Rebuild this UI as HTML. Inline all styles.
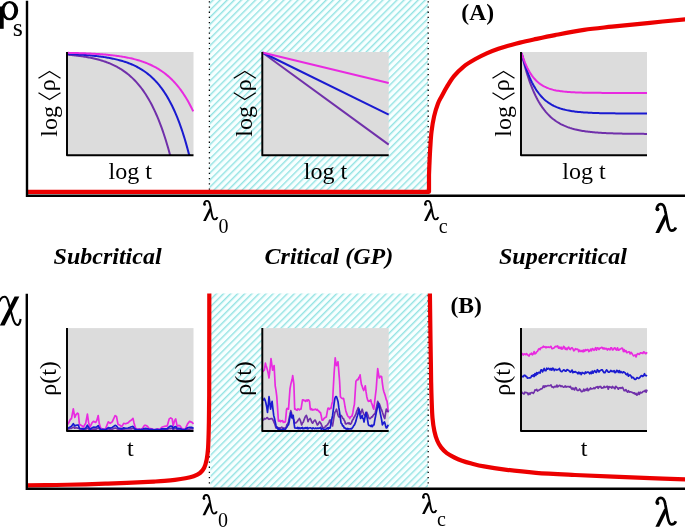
<!DOCTYPE html><html><head><meta charset="utf-8"><style>html,body{margin:0;padding:0;background:#fff;width:685px;height:527px;overflow:hidden}svg{display:block;filter:blur(0.35px)}text{font-family:"Liberation Serif",serif}</style></head><body>
<svg width="685" height="527" viewBox="0 0 685 527">
<defs><pattern id="h" patternUnits="userSpaceOnUse" width="5" height="5" patternTransform="rotate(45)"><rect width="5" height="5" fill="#f8ffff"/><line x1="0.8" y1="0" x2="0.8" y2="5" stroke="#6ad8d8" stroke-width="1"/></pattern></defs>
<rect width="685" height="527" fill="#fff"/>
<rect x="209.5" y="0" width="218.5" height="190" fill="url(#h)"/>
<rect x="210.5" y="293.5" width="217.5" height="194" fill="url(#h)"/>
<line x1="209.4" y1="1.2" x2="209.4" y2="190" stroke="#000" stroke-width="1.3" stroke-dasharray="1.3 3.9"/>
<line x1="428.2" y1="1.2" x2="428.2" y2="190" stroke="#000" stroke-width="1.3" stroke-dasharray="1.3 3.9"/>
<line x1="209.4" y1="295" x2="209.4" y2="487" stroke="#000" stroke-width="1.3" stroke-dasharray="1.3 3.9"/>
<line x1="428.2" y1="295" x2="428.2" y2="487" stroke="#000" stroke-width="1.3" stroke-dasharray="1.3 3.9"/>
<rect x="67" y="52" width="126.5" height="103.3" fill="#dcdcdc"/>
<rect x="67" y="328.1" width="126.5" height="102.9" fill="#dcdcdc"/>
<rect x="262.3" y="52" width="126.4" height="103.3" fill="#dcdcdc"/>
<rect x="262.3" y="328.1" width="126.4" height="102.9" fill="#dcdcdc"/>
<rect x="521" y="52" width="126" height="103.3" fill="#dcdcdc"/>
<rect x="521" y="328.1" width="126" height="102.9" fill="#dcdcdc"/>
<path d="M67.5,54.75 L68.56,54.83 L69.61,54.92 L70.67,55.02 L71.73,55.12 L72.78,55.22 L73.84,55.33 L74.89,55.44 L75.95,55.56 L77.01,55.68 L78.06,55.81 L79.12,55.94 L80.18,56.08 L81.23,56.22 L82.29,56.37 L83.34,56.53 L84.4,56.69 L85.46,56.86 L86.51,57.04 L87.57,57.22 L88.63,57.42 L89.68,57.62 L90.74,57.83 L91.79,58.04 L92.85,58.27 L93.91,58.5 L94.96,58.75 L96.02,59 L97.08,59.27 L98.13,59.55 L99.19,59.83 L100.25,60.13 L101.3,60.44 L102.36,60.77 L103.41,61.11 L104.47,61.46 L105.53,61.82 L106.58,62.2 L107.64,62.6 L108.7,63.01 L109.75,63.43 L110.81,63.88 L111.86,64.34 L112.92,64.82 L113.98,65.32 L115.03,65.84 L116.09,66.38 L117.15,66.94 L118.2,67.53 L119.26,68.14 L120.32,68.77 L121.37,69.43 L122.43,70.11 L123.48,70.82 L124.54,71.56 L125.6,72.33 L126.65,73.13 L127.71,73.96 L128.77,74.82 L129.82,75.72 L130.88,76.65 L131.93,77.62 L132.99,78.63 L134.05,79.67 L135.1,80.76 L136.16,81.89 L137.22,83.07 L138.27,84.29 L139.33,85.56 L140.38,86.88 L141.44,88.26 L142.5,89.68 L143.55,91.17 L144.61,92.71 L145.67,94.31 L146.72,95.97 L147.78,97.71 L148.84,99.5 L149.89,101.37 L150.95,103.31 L152,105.33 L153.06,107.43 L154.12,109.61 L155.17,111.88 L156.23,114.23 L157.29,116.68 L158.34,119.22 L159.4,121.86 L160.45,124.61 L161.51,127.46 L162.57,130.43 L163.62,133.51 L164.68,136.71 L165.74,140.04 L166.79,143.5 L167.85,147.09 L168.91,150.82 L169.96,154.7 L171.02,155.1" fill="none" stroke="#7030aa" stroke-width="2"/>
<path d="M67.5,53.94 L68.56,53.99 L69.61,54.04 L70.67,54.09 L71.73,54.14 L72.78,54.19 L73.84,54.25 L74.89,54.31 L75.95,54.37 L77.01,54.43 L78.06,54.49 L79.12,54.56 L80.18,54.63 L81.23,54.7 L82.29,54.77 L83.34,54.85 L84.4,54.93 L85.46,55.01 L86.51,55.09 L87.57,55.18 L88.63,55.27 L89.68,55.37 L90.74,55.46 L91.79,55.57 L92.85,55.67 L93.91,55.78 L94.96,55.89 L96.02,56.01 L97.08,56.13 L98.13,56.26 L99.19,56.39 L100.25,56.53 L101.3,56.67 L102.36,56.82 L103.41,56.97 L104.47,57.13 L105.53,57.3 L106.58,57.47 L107.64,57.65 L108.7,57.83 L109.75,58.03 L110.81,58.23 L111.86,58.44 L112.92,58.66 L113.98,58.88 L115.03,59.12 L116.09,59.36 L117.15,59.62 L118.2,59.88 L119.26,60.16 L120.32,60.44 L121.37,60.74 L122.43,61.05 L123.48,61.38 L124.54,61.71 L125.6,62.06 L126.65,62.43 L127.71,62.81 L128.77,63.2 L129.82,63.61 L130.88,64.04 L131.93,64.49 L132.99,64.95 L134.05,65.43 L135.1,65.93 L136.16,66.46 L137.22,67 L138.27,67.57 L139.33,68.16 L140.38,68.78 L141.44,69.42 L142.5,70.09 L143.55,70.78 L144.61,71.51 L145.67,72.26 L146.72,73.05 L147.78,73.86 L148.84,74.72 L149.89,75.61 L150.95,76.53 L152,77.49 L153.06,78.5 L154.12,79.54 L155.17,80.63 L156.23,81.77 L157.29,82.95 L158.34,84.18 L159.4,85.46 L160.45,86.8 L161.51,88.19 L162.57,89.65 L163.62,91.16 L164.68,92.73 L165.74,94.37 L166.79,96.08 L167.85,97.87 L168.91,99.72 L169.96,101.66 L171.02,103.67 L172.07,105.77 L173.13,107.96 L174.19,110.24 L175.24,112.62 L176.3,115.09 L177.36,117.67 L178.41,120.36 L179.47,123.16 L180.52,126.08 L181.58,129.12 L182.64,132.29 L183.69,135.59 L184.75,139.03 L185.81,142.62 L186.86,146.36 L187.92,150.25 L188.97,154.31 L190.03,155.1" fill="none" stroke="#1a1ad0" stroke-width="2"/>
<path d="M67.5,52.85 L68.56,52.87 L69.61,52.89 L70.67,52.92 L71.73,52.94 L72.78,52.97 L73.84,52.99 L74.89,53.02 L75.95,53.05 L77.01,53.08 L78.06,53.11 L79.12,53.14 L80.18,53.18 L81.23,53.21 L82.29,53.25 L83.34,53.29 L84.4,53.33 L85.46,53.37 L86.51,53.42 L87.57,53.46 L88.63,53.51 L89.68,53.56 L90.74,53.62 L91.79,53.67 L92.85,53.73 L93.91,53.79 L94.96,53.85 L96.02,53.91 L97.08,53.98 L98.13,54.05 L99.19,54.12 L100.25,54.19 L101.3,54.27 L102.36,54.35 L103.41,54.44 L104.47,54.53 L105.53,54.62 L106.58,54.71 L107.64,54.81 L108.7,54.92 L109.75,55.02 L110.81,55.14 L111.86,55.25 L112.92,55.37 L113.98,55.5 L115.03,55.63 L116.09,55.77 L117.15,55.91 L118.2,56.05 L119.26,56.21 L120.32,56.37 L121.37,56.53 L122.43,56.7 L123.48,56.88 L124.54,57.07 L125.6,57.26 L126.65,57.46 L127.71,57.67 L128.77,57.88 L129.82,58.11 L130.88,58.34 L131.93,58.59 L132.99,58.84 L134.05,59.1 L135.1,59.37 L136.16,59.66 L137.22,59.95 L138.27,60.26 L139.33,60.57 L140.38,60.9 L141.44,61.25 L142.5,61.6 L143.55,61.97 L144.61,62.36 L145.67,62.76 L146.72,63.17 L147.78,63.61 L148.84,64.05 L149.89,64.52 L150.95,65 L152,65.51 L153.06,66.03 L154.12,66.57 L155.17,67.14 L156.23,67.72 L157.29,68.33 L158.34,68.96 L159.4,69.62 L160.45,70.3 L161.51,71.01 L162.57,71.74 L163.62,72.51 L164.68,73.3 L165.74,74.13 L166.79,74.98 L167.85,75.87 L168.91,76.8 L169.96,77.76 L171.02,78.75 L172.07,79.79 L173.13,80.87 L174.19,81.98 L175.24,83.14 L176.3,84.35 L177.36,85.6 L178.41,86.9 L179.47,88.25 L180.52,89.66 L181.58,91.11 L182.64,92.63 L183.69,94.2 L184.75,95.83 L185.81,97.53 L186.86,99.29 L187.92,101.12 L188.97,103.02 L190.03,104.99 L191.09,107.04 L192.14,109.17 L193.2,111.38" fill="none" stroke="#e82ae0" stroke-width="2"/>
<line x1="262.3" y1="52.5" x2="388.7" y2="144.6" stroke="#7030aa" stroke-width="2"/>
<line x1="262.3" y1="52.5" x2="388.7" y2="114.6" stroke="#1a1ad0" stroke-width="2"/>
<line x1="262.3" y1="52.5" x2="388.7" y2="83" stroke="#e82ae0" stroke-width="2"/>
<path d="M521.6,53.37 L522.75,58.18 L523.9,62.7 L525.05,66.95 L526.2,70.95 L527.35,74.71 L528.5,78.25 L529.65,81.57 L530.8,84.7 L531.95,87.64 L533.1,90.4 L534.26,93 L535.41,95.45 L536.56,97.75 L537.71,99.91 L538.86,101.94 L540.01,103.85 L541.16,105.65 L542.31,107.34 L543.46,108.93 L544.61,110.43 L545.76,111.83 L546.91,113.15 L548.06,114.4 L549.21,115.56 L550.36,116.66 L551.51,117.7 L552.66,118.67 L553.81,119.58 L554.96,120.44 L556.11,121.25 L557.26,122.01 L558.41,122.72 L559.57,123.4 L560.72,124.03 L561.87,124.62 L563.02,125.18 L564.17,125.71 L565.32,126.2 L566.47,126.66 L567.62,127.1 L568.77,127.51 L569.92,127.9 L571.07,128.26 L572.22,128.6 L573.37,128.92 L574.52,129.23 L575.67,129.51 L576.82,129.78 L577.97,130.03 L579.12,130.26 L580.27,130.49 L581.42,130.7 L582.57,130.89 L583.72,131.08 L584.88,131.25 L586.03,131.41 L587.18,131.57 L588.33,131.71 L589.48,131.85 L590.63,131.98 L591.78,132.1 L592.93,132.21 L594.08,132.31 L595.23,132.41 L596.38,132.51 L597.53,132.6 L598.68,132.68 L599.83,132.76 L600.98,132.83 L602.13,132.9 L603.28,132.96 L604.43,133.03 L605.58,133.08 L606.73,133.14 L607.88,133.19 L609.03,133.24 L610.19,133.28 L611.34,133.32 L612.49,133.36 L613.64,133.4 L614.79,133.43 L615.94,133.47 L617.09,133.5 L618.24,133.53 L619.39,133.56 L620.54,133.58 L621.69,133.61 L622.84,133.63 L623.99,133.65 L625.14,133.67 L626.29,133.69 L627.44,133.71 L628.59,133.72 L629.74,133.74 L630.89,133.75 L632.04,133.77 L633.19,133.78 L634.34,133.79 L635.5,133.81 L636.65,133.82 L637.8,133.83 L638.95,133.84 L640.1,133.85 L641.25,133.85 L642.4,133.86 L643.55,133.87 L644.7,133.88 L645.85,133.88 L647,133.89" fill="none" stroke="#7030aa" stroke-width="2"/>
<path d="M521.6,53.04 L522.75,57.34 L523.9,61.33 L525.05,65.04 L526.2,68.49 L527.35,71.69 L528.5,74.66 L529.65,77.42 L530.8,79.99 L531.95,82.37 L533.1,84.58 L534.26,86.64 L535.41,88.55 L536.56,90.33 L537.71,91.97 L538.86,93.51 L540.01,94.93 L541.16,96.25 L542.31,97.48 L543.46,98.62 L544.61,99.68 L545.76,100.66 L546.91,101.58 L548.06,102.43 L549.21,103.21 L550.36,103.95 L551.51,104.63 L552.66,105.26 L553.81,105.85 L554.96,106.39 L556.11,106.9 L557.26,107.37 L558.41,107.81 L559.57,108.22 L560.72,108.59 L561.87,108.94 L563.02,109.27 L564.17,109.57 L565.32,109.85 L566.47,110.11 L567.62,110.36 L568.77,110.58 L569.92,110.79 L571.07,110.99 L572.22,111.17 L573.37,111.33 L574.52,111.49 L575.67,111.64 L576.82,111.77 L577.97,111.89 L579.12,112.01 L580.27,112.12 L581.42,112.22 L582.57,112.31 L583.72,112.4 L584.88,112.48 L586.03,112.55 L587.18,112.62 L588.33,112.69 L589.48,112.75 L590.63,112.8 L591.78,112.85 L592.93,112.9 L594.08,112.95 L595.23,112.99 L596.38,113.03 L597.53,113.06 L598.68,113.1 L599.83,113.13 L600.98,113.15 L602.13,113.18 L603.28,113.21 L604.43,113.23 L605.58,113.25 L606.73,113.27 L607.88,113.29 L609.03,113.31 L610.19,113.32 L611.34,113.34 L612.49,113.35 L613.64,113.36 L614.79,113.37 L615.94,113.39 L617.09,113.4 L618.24,113.41 L619.39,113.41 L620.54,113.42 L621.69,113.43 L622.84,113.44 L623.99,113.44 L625.14,113.45 L626.29,113.46 L627.44,113.46 L628.59,113.47 L629.74,113.47 L630.89,113.47 L632.04,113.48 L633.19,113.48 L634.34,113.48 L635.5,113.49 L636.65,113.49 L637.8,113.49 L638.95,113.5 L640.1,113.5 L641.25,113.5 L642.4,113.5 L643.55,113.5 L644.7,113.51 L645.85,113.51 L647,113.51" fill="none" stroke="#1a1ad0" stroke-width="2"/>
<path d="M521.6,53.17 L522.75,56.67 L523.9,59.87 L525.05,62.78 L526.2,65.44 L527.35,67.86 L528.5,70.07 L529.65,72.08 L530.8,73.92 L531.95,75.59 L533.1,77.12 L534.26,78.52 L535.41,79.79 L536.56,80.94 L537.71,82 L538.86,82.96 L540.01,83.84 L541.16,84.64 L542.31,85.37 L543.46,86.04 L544.61,86.65 L545.76,87.2 L546.91,87.71 L548.06,88.17 L549.21,88.59 L550.36,88.97 L551.51,89.32 L552.66,89.64 L553.81,89.93 L554.96,90.19 L556.11,90.44 L557.26,90.66 L558.41,90.86 L559.57,91.04 L560.72,91.21 L561.87,91.36 L563.02,91.5 L564.17,91.63 L565.32,91.74 L566.47,91.85 L567.62,91.94 L568.77,92.03 L569.92,92.11 L571.07,92.18 L572.22,92.25 L573.37,92.31 L574.52,92.37 L575.67,92.42 L576.82,92.46 L577.97,92.5 L579.12,92.54 L580.27,92.58 L581.42,92.61 L582.57,92.64 L583.72,92.66 L584.88,92.69 L586.03,92.71 L587.18,92.73 L588.33,92.75 L589.48,92.77 L590.63,92.78 L591.78,92.79 L592.93,92.81 L594.08,92.82 L595.23,92.83 L596.38,92.84 L597.53,92.85 L598.68,92.86 L599.83,92.86 L600.98,92.87 L602.13,92.88 L603.28,92.88 L604.43,92.89 L605.58,92.89 L606.73,92.89 L607.88,92.9 L609.03,92.9 L610.19,92.91 L611.34,92.91 L612.49,92.91 L613.64,92.91 L614.79,92.92 L615.94,92.92 L617.09,92.92 L618.24,92.92 L619.39,92.92 L620.54,92.92 L621.69,92.92 L622.84,92.93 L623.99,92.93 L625.14,92.93 L626.29,92.93 L627.44,92.93 L628.59,92.93 L629.74,92.93 L630.89,92.93 L632.04,92.93 L633.19,92.93 L634.34,92.93 L635.5,92.93 L636.65,92.93 L637.8,92.93 L638.95,92.93 L640.1,92.94 L641.25,92.94 L642.4,92.94 L643.55,92.94 L644.7,92.94 L645.85,92.94 L647,92.94" fill="none" stroke="#e82ae0" stroke-width="2"/>
<path d="M67.9,429.12 L70.3,428.47 L71.5,428.32 L73.3,427.08 L74.8,428.23 L76,427.77 L77.5,428.14 L78.4,427.98 L79.4,428.93 L81.8,429.27 L83.3,429.3 L85.7,429.3 L87.4,428 L88.6,429.12 L90,429.51 L92,428.97 L93.4,429.14 L95.8,429.13 L96.8,428.86 L98.2,427.9 L99.2,428.91 L100.6,429.85 L102.5,429.59 L105.4,429.98 L108.3,428.83 L110.2,429.3 L112.2,429.2 L115.1,427.93 L116.5,428.43 L118,429.36 L119.9,429.02 L121.8,429.26 L123.7,429.2 L125.6,428.86 L128,429 L130,428.68 L131.5,428.85 L133,428.22 L134,428.91 L135.4,429.33 L137,429.56 L139.4,429.85 L140.9,429.94 L142.9,429.81 L144.4,429.54 L145.9,429.58 L147.4,429.55 L148.9,429.61 L151.8,430.03 L153.8,429.75 L156.8,429.89 L157.8,429.85 L159.8,429.66 L161.8,429.56 L164.7,429.54 L167.2,429.4 L169.2,428.42 L170.7,428.69 L172.2,428.26 L173.2,429.67 L174.7,428.57 L175.7,428.34 L177.2,429.72 L178.6,429.15 L180.1,429.46 L182.1,429.68 L185.1,430.09 L187.6,429.42 L189.6,429.04 L192,428.69 L193.5,429.33" fill="none" stroke="#7030aa" stroke-width="1.7" stroke-linejoin="round"/>
<path d="M67.9,424.3 L70.3,419.5 L71.5,418.5 L73.3,408.9 L74.8,417.5 L76,414.6 L77.5,413.2 L78.4,414 L79.4,424.3 L81.8,425.7 L83.3,427.2 L85.7,423.3 L87.4,414.2 L88.6,422.4 L90,427.2 L92,422.8 L93.4,421.4 L95.8,422.4 L96.8,420.4 L98.2,415.6 L99.2,423.3 L100.6,428.1 L102.5,429.1 L105.4,429.1 L108.3,421.9 L110.2,423.3 L112.2,421.9 L115.1,415.6 L116.5,416.5 L118,424.3 L119.9,425.3 L121.8,426.7 L123.7,423.3 L125.6,423.8 L128,422.9 L130,420.9 L131.5,420 L133,418.4 L134,422.9 L135.4,427.8 L137,429.3 L139.4,428.8 L140.9,429.8 L142.9,427.8 L144.4,425.4 L145.9,425.4 L147.4,426.3 L148.9,428.3 L151.8,428.8 L153.8,429.8 L156.8,429.3 L157.8,428.8 L159.8,429.8 L161.8,427.3 L164.7,426.3 L167.2,425.9 L169.2,418.9 L170.7,417.9 L172.2,418.9 L173.2,425.9 L174.7,420.4 L175.7,418.9 L177.2,426.3 L178.6,425.4 L180.1,425.9 L182.1,428.8 L185.1,429.3 L187.6,423.9 L189.6,421.4 L192,422.4 L193.5,423.9" fill="none" stroke="#e82ae0" stroke-width="1.7" stroke-linejoin="round"/>
<path d="M67.9,428.24 L70.3,426.9 L71.5,426.3 L73.3,423.77 L74.8,426.07 L76,425.3 L77.5,425.07 L78.4,425.04 L79.4,428.41 L81.8,428.59 L83.3,429.26 L85.7,428.08 L87.4,425.15 L88.6,427.36 L90,429.23 L92,427.85 L93.4,427.18 L95.8,427.29 L96.8,426.91 L98.2,425.58 L99.2,427.54 L100.6,429.54 L102.5,429.35 L105.4,429.7 L108.3,427.62 L110.2,428.06 L112.2,427.52 L115.1,425.33 L116.5,425.98 L118,428.08 L119.9,428.35 L121.8,428.93 L123.7,427.8 L125.6,428.24 L128,427.97 L130,427.29 L131.5,426.73 L133,426.4 L134,427.82 L135.4,429.13 L137,429.66 L139.4,429.6 L140.9,429.6 L142.9,429.06 L144.4,428.61 L145.9,428.42 L147.4,428.71 L148.9,429.1 L151.8,429.34 L153.8,429.91 L156.8,429.34 L157.8,429.71 L159.8,429.83 L161.8,428.88 L164.7,428.94 L167.2,428.62 L169.2,426.79 L170.7,426.11 L172.2,426.35 L173.2,428.57 L174.7,426.73 L175.7,426.62 L177.2,428.61 L178.6,428.4 L180.1,428.56 L182.1,429.51 L185.1,429.43 L187.6,427.74 L189.6,427.28 L192,427.46 L193.5,428.27" fill="none" stroke="#1a1ad0" stroke-width="1.7" stroke-linejoin="round"/>
<path d="M262.9,372 L263.6,370.5 L264.3,370.2 L264.85,367.04 L265.4,363.2 L266.1,365.78 L266.8,367.83 L267.5,370.2 L268.25,373.59 L269,378 L269.67,372.06 L270.33,365.62 L271,358.6 L271.8,364.42 L272.6,370.2 L273.35,367.91 L274.1,365.6 L274.65,375.22 L275.2,385.8 L276,390.36 L276.8,396.7 L277.6,408.57 L278.4,420.9 L279.1,421.13 L279.8,420.28 L280.5,421.67 L281.2,420.74 L281.9,420.82 L282.6,420.56 L283.3,422.36 L284,421.97 L284.7,422.3 L285.4,421.7 L286,415.66 L286.6,409.2 L287.23,408.36 L287.87,408.89 L288.5,409.2 L289.25,399.05 L290,388.9 L290.8,384.36 L291.6,381.2 L292.15,379.26 L292.7,375.7 L293.3,379.76 L293.9,384.3 L294.7,409.2 L295.5,408.98 L296.3,410 L297.07,410.3 L297.83,408.79 L298.6,409.2 L299.4,409.97 L300.2,409.12 L301,409.2 L301.75,404.59 L302.5,399.8 L303.27,399.92 L304.05,400.57 L304.83,400.44 L305.6,401.4 L306.4,400.03 L307.2,400.99 L308,399.8 L308.75,400.12 L309.5,401.4 L310.3,409.2 L310.98,409.7 L311.65,408.68 L312.32,410.04 L313,409.91 L313.68,409.66 L314.35,409.67 L315.02,409.35 L315.7,409.2 L316.47,410.05 L317.23,409.39 L318,410.5 L318.8,411.06 L319.6,412.29 L320.4,412.3 L321.2,415.61 L322,420 L322.67,420.26 L323.33,419.7 L324,418.5 L324.77,417.84 L325.53,417.26 L326.3,417 L327.1,412.61 L327.9,408.4 L328.67,408.19 L329.45,409.29 L330.23,408.2 L331,408.4 L331.8,404.05 L332.6,401.4 L333.35,386.67 L334.1,373.4 L334.65,365.99 L335.2,357.8 L335.85,362.59 L336.5,365.6 L337.25,363.64 L338,361.7 L338.8,371.43 L339.6,381.2 L340.4,396.7 L341.15,397.59 L341.9,398.3 L342.7,398.75 L343.5,398.3 L344.27,401.93 L345.03,406.76 L345.8,410.7 L346.6,413.15 L347.4,415.4 L348.17,416.65 L348.93,416.89 L349.7,418.5 L350.47,417.07 L351.23,416.56 L352,416 L352.8,412.94 L353.6,408.06 L354.4,404.5 L355.15,393.03 L355.9,381.2 L356.7,380.32 L357.5,379.42 L358.3,379.6 L358.9,377.25 L359.5,377.03 L360.1,374.9 L360.75,380.1 L361.4,384.3 L362.17,386.14 L362.93,388.76 L363.7,390.5 L364.5,388.47 L365.3,385.8 L366.05,391.97 L366.8,396.7 L367.6,399.87 L368.4,401.4 L369.17,400.7 L369.93,401.21 L370.7,399.8 L371.48,402.98 L372.25,404.66 L373.02,407.54 L373.8,409.2 L374.6,402.45 L375.4,395.51 L376.2,389 L376.95,378.39 L377.7,368.7 L378.5,374.03 L379.3,378 L380.07,376.89 L380.83,376.22 L381.6,376.5 L382.4,383.3 L383.2,389 L383.97,392.06 L384.73,394.1 L385.5,396.7 L386.3,399.66 L387.1,401.4 L387.65,406.04 L388.2,412.3" fill="none" stroke="#e82ae0" stroke-width="1.7" stroke-linejoin="round"/>
<path d="M262.9,420 L263.6,420.01 L264.3,418.5 L265.1,419.07 L265.9,418.74 L266.7,417.8 L267.47,417.55 L268.23,418.97 L269,419.3 L269.77,418.9 L270.53,418.82 L271.3,418.5 L272.03,418.67 L272.77,419.61 L273.5,421 L274.12,422.63 L274.75,423.95 L275.38,426.09 L276,427.9 L276.72,427.04 L277.45,427.15 L278.17,428.28 L278.89,427.76 L279.62,427.92 L280.34,428.32 L281.06,427.65 L281.78,427.1 L282.51,428.41 L283.23,428.06 L283.95,428.18 L284.68,428.12 L285.4,427.9 L286.17,427.2 L286.95,424.55 L287.73,423.72 L288.5,421.7 L289.27,417.8 L290.03,414.5 L290.8,410.7 L291.6,413.59 L292.4,415.57 L293.2,418.5 L293.95,420.1 L294.7,423.2 L295.4,422.75 L296.1,422.79 L296.8,422 L297.45,421.29 L298.1,420.16 L298.75,419.63 L299.4,418.5 L300.17,420.09 L300.93,422.25 L301.7,425 L302.47,423.02 L303.23,422.24 L304,420 L304.8,417.92 L305.6,416.24 L306.4,415.4 L307.2,417.83 L308,421.7 L308.77,419.8 L309.53,419.16 L310.3,418.5 L311.07,420.2 L311.83,422.21 L312.6,423.2 L313.4,421.83 L314.2,420.83 L315,420 L315.77,421.29 L316.53,422.98 L317.3,425 L318.07,424.4 L318.83,422.89 L319.6,421.7 L320.4,422.8 L321.2,424.06 L322,426.3 L322.67,427.34 L323.33,427.74 L324,427.9 L324.75,427.77 L325.5,425.98 L326.25,425.81 L327,425 L327.64,424.75 L328.28,423.17 L328.92,422.8 L329.56,420.4 L330.2,420 L330.97,422.86 L331.73,423.2 L332.5,426 L333.3,421.28 L334.1,416.01 L334.9,412.3 L335.7,411.31 L336.5,409.2 L337.27,412.14 L338.03,415.25 L338.8,417 L339.57,417.02 L340.33,416.74 L341.1,415.4 L341.9,416.5 L342.7,418.35 L343.5,418.5 L344.12,420.32 L344.75,420.97 L345.38,423.48 L346,424 L346.66,423.68 L347.32,423.25 L347.99,422.94 L348.65,423.54 L349.31,422.95 L349.98,424.18 L350.64,424.11 L351.3,423.2 L351.95,421.39 L352.6,419.89 L353.25,419.35 L353.9,417.41 L354.55,416.78 L355.2,415.4 L355.98,414.01 L356.75,411.06 L357.52,409.41 L358.3,407.6 L359.07,410.42 L359.83,411.7 L360.6,413.9 L361.4,411.27 L362.2,409.2 L362.97,411.97 L363.73,413.9 L364.5,415.4 L365.27,415.08 L366.03,413.67 L366.8,412.3 L367.6,414.21 L368.4,416.78 L369.2,418.5 L369.98,418.72 L370.75,418 L371.52,416.9 L372.3,417 L373.07,415.46 L373.85,414.49 L374.62,413.96 L375.4,412.3 L376.17,408.77 L376.93,405.12 L377.7,401.4 L378.5,403.52 L379.3,403.76 L380.1,406 L380.87,408.34 L381.63,409.9 L382.4,412.3 L383.2,414.47 L384,417.04 L384.8,418.5 L385.55,413.4 L386.3,409.2 L386.93,411.05 L387.57,410.51 L388.2,412.3" fill="none" stroke="#7030aa" stroke-width="1.7" stroke-linejoin="round"/>
<path d="M262.9,400 L263.6,399.97 L264.3,398.3 L265.1,400 L265.9,403 L266.7,406.79 L267.5,412.3 L268.25,405.4 L269,396.7 L269.8,402.38 L270.6,409.2 L271.35,404.62 L272.1,401.4 L272.9,408.67 L273.7,415.4 L274.45,418.27 L275.2,421.7 L276,425.5 L276.8,427.9 L277.44,427.72 L278.08,429.33 L278.72,428.48 L279.36,429.28 L280,429.4 L280.68,430 L281.35,429.73 L282.02,430 L282.7,429.77 L283.38,428.59 L284.05,430 L284.72,429.56 L285.4,429.4 L286.2,427.86 L287,427 L287.75,425.34 L288.5,424.8 L289.27,421.26 L290.03,416.62 L290.8,412.3 L291.4,415.94 L292,418 L292.6,417.19 L293.2,415.4 L293.95,422.48 L294.7,427.9 L295.4,428.02 L296.1,428.26 L296.8,428.1 L297.5,427.47 L298.2,428.72 L298.9,427.56 L299.6,428.41 L300.3,428.72 L301,427.9 L301.67,428.27 L302.33,427.46 L303,428.79 L303.67,428.6 L304.33,427.83 L305,428.5 L305.71,427.6 L306.43,428.39 L307.14,427.4 L307.86,428.92 L308.57,428.08 L309.29,428.02 L310,427.9 L310.71,427.82 L311.43,428.36 L312.14,428.91 L312.86,427.9 L313.57,428.1 L314.29,428.56 L315,428.5 L315.71,428.06 L316.43,428.53 L317.14,428.36 L317.86,428.09 L318.57,428.45 L319.29,428.12 L320,428 L320.67,427.49 L321.33,429.36 L322,428.44 L322.67,428.81 L323.33,428.99 L324,429.4 L324.69,430 L325.38,429.88 L326.07,428.92 L326.76,428.55 L327.44,427.84 L328.13,429.11 L328.82,427.64 L329.51,428.15 L330.2,427.9 L331,423.46 L331.8,419.26 L332.6,415.4 L333.37,409.44 L334.13,403.44 L334.9,398.3 L335.7,396.67 L336.5,396.7 L337.25,399.11 L338,401.4 L338.8,407.38 L339.6,412.3 L340.35,418.01 L341.1,423.2 L341.88,423.84 L342.65,425.9 L343.43,425.92 L344.2,427.9 L344.93,427.88 L345.65,428.77 L346.38,429.07 L347.1,428.38 L347.82,429.21 L348.55,428.72 L349.27,428.91 L350,429 L350.75,428.65 L351.5,428.88 L352.25,427.94 L353,427 L353.73,425.68 L354.47,424.88 L355.2,423.2 L355.97,420.86 L356.73,417.74 L357.5,415.4 L358.25,412.81 L359,409.2 L359.8,414.43 L360.6,418.5 L361.4,417.15 L362.2,415.4 L362.8,418.4 L363.4,418.93 L364,422 L364.67,418.77 L365.33,415.78 L366,412.3 L366.8,416.18 L367.6,420.04 L368.4,424.8 L369.05,425.57 L369.7,425.53 L370.35,425.66 L371,426.5 L371.75,425.25 L372.5,426.49 L373.25,424.96 L374,424.8 L374.75,420.21 L375.5,416.49 L376.25,412.66 L377,409.2 L377.75,406.76 L378.5,403 L379.3,407.08 L380.1,412.3 L380.87,416.06 L381.63,419.91 L382.4,424.8 L383.1,423.81 L383.8,422.41 L384.5,422 L385.1,423.69 L385.7,426.36 L386.3,427.9 L386.93,427.63 L387.57,426.43 L388.2,424.8" fill="none" stroke="#1a1ad0" stroke-width="1.7" stroke-linejoin="round"/>
<path d="M521.5,353.27 L522.34,353.78 L523.18,355.07 L524.03,353.88 L524.87,354.2 L525.71,354.63 L526.55,353.61 L527.4,354.79 L528.24,355.33 L529.08,356.01 L529.92,354.02 L530.77,354.18 L531.61,353.07 L532.45,354.75 L533.29,353.93 L534.13,351.5 L534.98,353.85 L535.82,353.32 L536.66,351.92 L537.5,351.33 L538.35,349.48 L539.19,348.58 L540.03,349.65 L540.87,347.77 L541.71,347.68 L542.56,347.37 L543.4,346.26 L544.24,347.08 L545.08,346.63 L545.93,347.86 L546.77,346.92 L547.61,347.32 L548.45,346.93 L549.3,347.44 L550.14,346.86 L550.98,346.35 L551.82,348.54 L552.66,348.57 L553.51,348.13 L554.35,347.76 L555.19,346.62 L556.03,346.39 L556.88,346.6 L557.72,345.97 L558.56,348.09 L559.4,347.07 L560.24,348.51 L561.09,347.23 L561.93,349.05 L562.77,348.81 L563.61,346.37 L564.46,347.1 L565.3,349.3 L566.14,348.08 L566.98,349.72 L567.83,348.07 L568.67,347.19 L569.51,348.96 L570.35,349.51 L571.19,348.08 L572.04,347.73 L572.88,348.69 L573.72,350.81 L574.56,350.42 L575.41,348.73 L576.25,349.34 L577.09,349.13 L577.93,349.23 L578.78,351.67 L579.62,350.03 L580.46,351.4 L581.3,351.29 L582.14,350.45 L582.99,351.92 L583.83,349.96 L584.67,351.34 L585.51,349.6 L586.36,350.36 L587.2,349.58 L588.04,349.59 L588.88,351.54 L589.72,350.88 L590.57,349.23 L591.41,350.82 L592.25,348.64 L593.09,349.03 L593.94,350.26 L594.78,349.46 L595.62,347.68 L596.46,350.19 L597.31,347.84 L598.15,347.98 L598.99,349.53 L599.83,348.2 L600.67,348.11 L601.52,347.44 L602.36,347.49 L603.2,348.98 L604.04,347.96 L604.89,349.04 L605.73,348.35 L606.57,348.6 L607.41,350.12 L608.26,348.7 L609.1,348.98 L609.94,349.86 L610.78,347.81 L611.62,347.73 L612.47,349.99 L613.31,349.72 L614.15,348.02 L614.99,347.85 L615.84,349.5 L616.68,350.11 L617.52,347.88 L618.36,350.14 L619.2,349.94 L620.05,349.11 L620.89,348.73 L621.73,348.16 L622.57,348.36 L623.42,351.52 L624.26,349.74 L625.1,351.53 L625.94,350.57 L626.79,352.66 L627.63,352.37 L628.47,351.85 L629.31,351.89 L630.15,353.91 L631,352.35 L631.84,353.22 L632.68,354.6 L633.52,355.87 L634.37,355.54 L635.21,354.93 L636.05,356.91 L636.89,354.48 L637.73,353.62 L638.58,354.08 L639.42,354.31 L640.26,352.86 L641.1,352.91 L641.95,353.19 L642.79,353.5 L643.63,351.88 L644.47,352.28 L645.32,353.57 L646.16,353.54 L647,352.27" fill="none" stroke="#e82ae0" stroke-width="1.7" stroke-linejoin="round"/>
<path d="M521.5,375.84 L522.34,376.58 L523.18,376.79 L524.03,375.41 L524.87,375.21 L525.71,376.49 L526.55,376.38 L527.4,378.18 L528.24,378.01 L529.08,377.94 L529.92,377.92 L530.77,377.75 L531.61,375.73 L532.45,376.14 L533.29,374.83 L534.13,376.59 L534.98,373.58 L535.82,375.38 L536.66,372.68 L537.5,374.04 L538.35,372.52 L539.19,372.25 L540.03,373.09 L540.87,370.14 L541.71,369.8 L542.56,371.88 L543.4,370.19 L544.24,368.47 L545.08,370.77 L545.93,370.68 L546.77,368.2 L547.61,369.17 L548.45,368.33 L549.3,368.89 L550.14,369.85 L550.98,368.51 L551.82,370.14 L552.66,368.23 L553.51,368.62 L554.35,370.59 L555.19,369.37 L556.03,369.46 L556.88,370.02 L557.72,369.69 L558.56,369.45 L559.4,368.46 L560.24,370.65 L561.09,371.47 L561.93,371.6 L562.77,370.76 L563.61,369.94 L564.46,370.06 L565.3,371.14 L566.14,371.2 L566.98,369.62 L567.83,370.08 L568.67,370.56 L569.51,371.11 L570.35,372.11 L571.19,371.28 L572.04,370.06 L572.88,372.66 L573.72,371.71 L574.56,372.2 L575.41,371.54 L576.25,372.38 L577.09,372.49 L577.93,373.87 L578.78,372.08 L579.62,373.65 L580.46,372.76 L581.3,374.54 L582.14,372.49 L582.99,373.05 L583.83,373.1 L584.67,373.82 L585.51,371.91 L586.36,372.97 L587.2,372.07 L588.04,372.13 L588.88,372.56 L589.72,373.85 L590.57,372.26 L591.41,373.53 L592.25,371.01 L593.09,373.12 L593.94,371.29 L594.78,370.61 L595.62,372.13 L596.46,372.46 L597.31,369.72 L598.15,370.51 L598.99,372.02 L599.83,370.74 L600.67,370.44 L601.52,369.75 L602.36,369.84 L603.2,371.58 L604.04,372.68 L604.89,372.73 L605.73,371.25 L606.57,369.81 L607.41,370.71 L608.26,372.11 L609.1,372.25 L609.94,371.67 L610.78,370.45 L611.62,371.34 L612.47,371.2 L613.31,371.65 L614.15,370.56 L614.99,372.62 L615.84,372.46 L616.68,370.27 L617.52,370.66 L618.36,372.41 L619.2,370.63 L620.05,372.63 L620.89,371.51 L621.73,372.44 L622.57,372.86 L623.42,371.77 L624.26,372.38 L625.1,372.68 L625.94,374.35 L626.79,374.77 L627.63,373.48 L628.47,376.13 L629.31,375.12 L630.15,374.97 L631,375.95 L631.84,377.97 L632.68,377.1 L633.52,377.69 L634.37,378.96 L635.21,379.48 L636.05,378.94 L636.89,377.62 L637.73,377.83 L638.58,378.47 L639.42,377.84 L640.26,376.92 L641.1,375.92 L641.95,375.69 L642.79,376.49 L643.63,375.68 L644.47,373.74 L645.32,375.52 L646.16,375.81 L647,375.19" fill="none" stroke="#1a1ad0" stroke-width="1.7" stroke-linejoin="round"/>
<path d="M521.5,391.69 L522.34,393.16 L523.18,393.35 L524.03,394.03 L524.87,392.23 L525.71,392.56 L526.55,392.5 L527.4,392.93 L528.24,394.64 L529.08,393.02 L529.92,394.34 L530.77,392.91 L531.61,392.68 L532.45,392.62 L533.29,393.36 L534.13,392.2 L534.98,389.94 L535.82,390.26 L536.66,389.39 L537.5,391.09 L538.35,390.44 L539.19,389.95 L540.03,389.54 L540.87,388.82 L541.71,388.96 L542.56,388.02 L543.4,385.94 L544.24,387.24 L545.08,385.77 L545.93,386.6 L546.77,386.06 L547.61,385.69 L548.45,385.52 L549.3,385.75 L550.14,385.43 L550.98,384.87 L551.82,387.01 L552.66,386.97 L553.51,387.57 L554.35,386.71 L555.19,386.33 L556.03,386.95 L556.88,385.14 L557.72,386.79 L558.56,386.12 L559.4,385.4 L560.24,385.58 L561.09,386.64 L561.93,385.93 L562.77,386.65 L563.61,387.19 L564.46,386.66 L565.3,385.97 L566.14,387.15 L566.98,386.48 L567.83,386.58 L568.67,386.56 L569.51,387.17 L570.35,386.4 L571.19,388.23 L572.04,389.33 L572.88,387.87 L573.72,389.08 L574.56,389.95 L575.41,387.5 L576.25,388.02 L577.09,390.24 L577.93,390.56 L578.78,390.19 L579.62,388.98 L580.46,389.97 L581.3,391.56 L582.14,391.54 L582.99,391.13 L583.83,389.17 L584.67,390.97 L585.51,389.38 L586.36,390.25 L587.2,388.35 L588.04,390.7 L588.88,389.44 L589.72,389.64 L590.57,387.95 L591.41,389.01 L592.25,388.75 L593.09,388.62 L593.94,387.77 L594.78,388.72 L595.62,387.41 L596.46,387.11 L597.31,386.7 L598.15,388.26 L598.99,386.55 L599.83,386.89 L600.67,386.42 L601.52,388.15 L602.36,387.89 L603.2,387.86 L604.04,386.35 L604.89,387.55 L605.73,387.27 L606.57,386.52 L607.41,386.25 L608.26,389.24 L609.1,386.62 L609.94,387.16 L610.78,387.07 L611.62,388.05 L612.47,386.5 L613.31,387.68 L614.15,387.37 L614.99,388.78 L615.84,386.3 L616.68,387.29 L617.52,387.78 L618.36,389.2 L619.2,387.84 L620.05,387.72 L620.89,388.47 L621.73,387.74 L622.57,387.34 L623.42,389.14 L624.26,390.75 L625.1,390.63 L625.94,389.58 L626.79,391.24 L627.63,392.13 L628.47,390.75 L629.31,392.13 L630.15,391.82 L631,391.87 L631.84,392.39 L632.68,392.53 L633.52,393.36 L634.37,392.82 L635.21,394.28 L636.05,393.42 L636.89,395.14 L637.73,394.37 L638.58,392.28 L639.42,394.3 L640.26,392.25 L641.1,392.82 L641.95,392.75 L642.79,391.78 L643.63,391.36 L644.47,391.5 L645.32,390.31 L646.16,392.19 L647,389.64" fill="none" stroke="#7030aa" stroke-width="1.7" stroke-linejoin="round"/>
<path d="M67,52 V155.3 H193.5" fill="none" stroke="#000" stroke-width="1.95" stroke-linejoin="round"/>
<path d="M67,328.1 V431 H193.5" fill="none" stroke="#000" stroke-width="1.95" stroke-linejoin="round"/>
<path d="M262.3,52 V155.3 H388.7" fill="none" stroke="#000" stroke-width="1.95" stroke-linejoin="round"/>
<path d="M262.3,328.1 V431 H388.7" fill="none" stroke="#000" stroke-width="1.95" stroke-linejoin="round"/>
<path d="M521,52 V155.3 H647" fill="none" stroke="#000" stroke-width="1.95" stroke-linejoin="round"/>
<path d="M521,328.1 V431 H647" fill="none" stroke="#000" stroke-width="1.95" stroke-linejoin="round"/>
<path d="M27,191.8 H429 V176 L429,175 C429.08,172.93 429.28,167.23 429.5,162.6 C429.72,157.97 429.97,152.33 430.3,147.2 C430.63,142.07 430.87,136.93 431.5,131.8 C432.13,126.67 433.02,121.1 434.1,116.4 C435.18,111.7 436.72,107 438,103.6 C439.28,100.2 440.3,98.82 441.8,96 C443.3,93.18 444.97,90 447,86.7 C449.03,83.4 451.27,79.52 454,76.2 C456.73,72.88 459.9,69.62 463.4,66.8 C466.9,63.98 471.12,61.53 475,59.3 C478.88,57.07 482.8,55.15 486.7,53.4 C490.6,51.65 494.52,50.15 498.4,48.8 C502.28,47.45 506.4,46.33 510,45.3 C513.6,44.27 516.03,43.57 520,42.6 C523.97,41.63 527.97,40.75 533.8,39.5 C539.63,38.25 546.63,36.7 555,35.1 C563.37,33.5 574.5,31.3 584,29.9 C593.5,28.5 601,27.88 612,26.7 C623,25.52 637.67,24.05 650,22.8 C662.33,21.55 680,19.8 686,19.2" fill="none" stroke="#ec0000" stroke-width="4.2" stroke-linejoin="round"/>
<path d="M27,485.4 C31.83,485.33 46.17,485.18 56,485 C65.83,484.82 77.33,484.53 86,484.3 C94.67,484.07 101.17,483.85 108,483.6 C114.83,483.35 121.17,483.03 127,482.8 C132.83,482.57 138.5,482.4 143,482.2 C147.5,482 150.42,481.82 154,481.6 C157.58,481.38 161.02,481.18 164.5,480.9 C167.98,480.62 171.42,480.33 174.9,479.9 C178.38,479.47 182.27,478.92 185.4,478.3 C188.53,477.68 191.27,477.08 193.7,476.2 C196.13,475.32 198.25,474.4 200,473 C201.75,471.6 203.08,470.07 204.2,467.8 C205.32,465.53 206.07,462.53 206.7,459.4 C207.33,456.27 207.68,453.07 208,449 C208.32,444.93 208.45,439.53 208.6,435 C208.75,430.47 208.8,428.47 208.9,421.8 C209,415.13 209.15,399.47 209.2,395 L209.3,293.5" fill="none" stroke="#ec0000" stroke-width="4.2" stroke-linejoin="round"/>
<path d="M429.9,293.5 L430.5,340 L430.9,365 L431.1,380 C431.18,383.17 431.37,392.67 431.6,399 C431.83,405.33 432.03,412.62 432.5,418 C432.97,423.38 433.6,427.5 434.4,431.3 C435.2,435.1 436.18,438.12 437.3,440.8 C438.42,443.48 439.52,445.35 441.1,447.4 C442.68,449.45 444.58,451.42 446.8,453.1 C449.02,454.78 451.87,456.23 454.4,457.5 C456.93,458.77 459.15,459.7 462,460.7 C464.85,461.7 467.83,462.55 471.5,463.5 C475.17,464.45 478.42,465.38 484,466.4 C489.58,467.42 496.33,468.53 505,469.6 C513.67,470.67 524.33,471.9 536,472.8 C547.67,473.7 562.17,474.35 575,475 C587.83,475.65 600.5,476.18 613,476.7 C625.5,477.22 637.83,477.65 650,478.1 C662.17,478.55 680,479.18 686,479.4" fill="none" stroke="#ec0000" stroke-width="4.2" stroke-linejoin="round"/>
<path d="M27,0.8 V195.7 H685" fill="none" stroke="#000" stroke-width="2.4"/>
<path d="M26.8,293.7 V488.8 H685" fill="none" stroke="#000" stroke-width="2.4"/>
<g transform="translate(655.6,203.3) scale(1)">
<path d="M1.2,6.3 C1.2,3 3,0.9 5.2,0.9 C7.8,0.9 9,3 9.7,7.5 L12,19.7 C12.7,23.5 13.6,27.4 16,27.4 C18,27.4 19.6,26 20.3,24.2" fill="none" stroke="#000" stroke-width="2.7"/>
<circle cx="1.9" cy="6.0" r="1.9" fill="#000"/>
<path d="M8.7,11.5 L11.3,14.3 L3.6,29.8 L-0.2,29.8 Z" fill="#000"/>
</g>
<g transform="translate(655.6,497) scale(1)">
<path d="M1.2,6.3 C1.2,3 3,0.9 5.2,0.9 C7.8,0.9 9,3 9.7,7.5 L12,19.7 C12.7,23.5 13.6,27.4 16,27.4 C18,27.4 19.6,26 20.3,24.2" fill="none" stroke="#000" stroke-width="2.7"/>
<circle cx="1.9" cy="6.0" r="1.9" fill="#000"/>
<path d="M8.7,11.5 L11.3,14.3 L3.6,29.8 L-0.2,29.8 Z" fill="#000"/>
</g>
<g transform="translate(203.3,200.2) scale(0.7)">
<path d="M1.2,6.3 C1.2,3 3,0.9 5.2,0.9 C7.8,0.9 9,3 9.7,7.5 L12,19.7 C12.7,23.5 13.6,27.4 16,27.4 C18,27.4 19.6,26 20.3,24.2" fill="none" stroke="#000" stroke-width="2.7"/>
<circle cx="1.9" cy="6.0" r="1.9" fill="#000"/>
<path d="M8.7,11.5 L11.3,14.3 L3.6,29.8 L-0.2,29.8 Z" fill="#000"/>
</g>
<g transform="translate(424.2,200.2) scale(0.7)">
<path d="M1.2,6.3 C1.2,3 3,0.9 5.2,0.9 C7.8,0.9 9,3 9.7,7.5 L12,19.7 C12.7,23.5 13.6,27.4 16,27.4 C18,27.4 19.6,26 20.3,24.2" fill="none" stroke="#000" stroke-width="2.7"/>
<circle cx="1.9" cy="6.0" r="1.9" fill="#000"/>
<path d="M8.7,11.5 L11.3,14.3 L3.6,29.8 L-0.2,29.8 Z" fill="#000"/>
</g>
<g transform="translate(202.7,494.4) scale(0.7)">
<path d="M1.2,6.3 C1.2,3 3,0.9 5.2,0.9 C7.8,0.9 9,3 9.7,7.5 L12,19.7 C12.7,23.5 13.6,27.4 16,27.4 C18,27.4 19.6,26 20.3,24.2" fill="none" stroke="#000" stroke-width="2.7"/>
<circle cx="1.9" cy="6.0" r="1.9" fill="#000"/>
<path d="M8.7,11.5 L11.3,14.3 L3.6,29.8 L-0.2,29.8 Z" fill="#000"/>
</g>
<g transform="translate(422.2,493.2) scale(0.7)">
<path d="M1.2,6.3 C1.2,3 3,0.9 5.2,0.9 C7.8,0.9 9,3 9.7,7.5 L12,19.7 C12.7,23.5 13.6,27.4 16,27.4 C18,27.4 19.6,26 20.3,24.2" fill="none" stroke="#000" stroke-width="2.7"/>
<circle cx="1.9" cy="6.0" r="1.9" fill="#000"/>
<path d="M8.7,11.5 L11.3,14.3 L3.6,29.8 L-0.2,29.8 Z" fill="#000"/>
</g>
<text x="218.4" y="233" font-size="20">0</text>
<text x="438.8" y="233.1" font-size="20">c</text>
<text x="217.9" y="526.6" font-size="20">0</text>
<text x="437.1" y="525.8" font-size="20">c</text>
<path fill="#000" fill-rule="evenodd" d="M18.2,10.6 A8.6,9.7 0 1 1 1,10.6 A8.6,9.7 0 1 1 18.2,10.6 Z M14.2,10.6 A4.8,7.4 0 1 0 4.6,10.6 A4.8,7.4 0 1 0 14.2,10.6 Z"/>
<rect x="-0.5" y="6.5" width="4.2" height="22.3" fill="#000"/>
<text x="12.8" y="36" font-size="26">s</text>
<path d="M14.6,296.6 L19.3,296.6 L4.6,325.6 L-0.2,325.6 Z" fill="#000"/>
<path d="M-0.5,301.5 C0.5,298.5 2.5,296.8 4.6,296.8 C6.5,296.8 7.5,299 8.3,302 L12.5,317 C13.5,321 15,325 17.5,325 C19.3,325 20.2,322 20.6,319" fill="none" stroke="#000" stroke-width="2.1"/>
<text x="461.3" y="19.5" font-size="23.6" font-weight="bold">(A)</text>
<text x="450.5" y="312.8" font-size="23.6" font-weight="bold">(B)</text>
<text x="107.6" y="264" font-size="24" font-weight="bold" font-style="italic" text-anchor="middle">Subcritical</text>
<text x="328.9" y="264" font-size="24" font-weight="bold" font-style="italic" text-anchor="middle">Critical (GP)</text>
<text x="563" y="264" font-size="24" font-weight="bold" font-style="italic" text-anchor="middle">Supercritical</text>
<g transform="translate(56.7,136.7) rotate(-90)">
<text x="0" y="0" font-size="24">log</text>
<path d="M44,-18.2 L37.2,-7.2 L44,3.8" fill="none" stroke="#000" stroke-width="1.25"/>
<text x="45.5" y="-1.5" font-size="24">&#961;</text>
<path d="M58.4,-18.2 L65.2,-7.2 L58.4,3.8" fill="none" stroke="#000" stroke-width="1.25"/>
</g>
<text x="130.25" y="178.7" font-size="24" text-anchor="middle">log t</text>
<text transform="translate(47.6,378.5) rotate(-90)" x="0" y="8" font-size="24" text-anchor="middle">&#961;(t)</text>
<text x="130.25" y="455.5" font-size="24" text-anchor="middle">t</text>
<g transform="translate(252,136.7) rotate(-90)">
<text x="0" y="0" font-size="24">log</text>
<path d="M44,-18.2 L37.2,-7.2 L44,3.8" fill="none" stroke="#000" stroke-width="1.25"/>
<text x="45.5" y="-1.5" font-size="24">&#961;</text>
<path d="M58.4,-18.2 L65.2,-7.2 L58.4,3.8" fill="none" stroke="#000" stroke-width="1.25"/>
</g>
<text x="325.5" y="178.7" font-size="24" text-anchor="middle">log t</text>
<text transform="translate(242.9,378.5) rotate(-90)" x="0" y="8" font-size="24" text-anchor="middle">&#961;(t)</text>
<text x="325.5" y="455.5" font-size="24" text-anchor="middle">t</text>
<g transform="translate(510.7,136.7) rotate(-90)">
<text x="0" y="0" font-size="24">log</text>
<path d="M44,-18.2 L37.2,-7.2 L44,3.8" fill="none" stroke="#000" stroke-width="1.25"/>
<text x="45.5" y="-1.5" font-size="24">&#961;</text>
<path d="M58.4,-18.2 L65.2,-7.2 L58.4,3.8" fill="none" stroke="#000" stroke-width="1.25"/>
</g>
<text x="584" y="178.7" font-size="24" text-anchor="middle">log t</text>
<text transform="translate(501.6,378.5) rotate(-90)" x="0" y="8" font-size="24" text-anchor="middle">&#961;(t)</text>
<text x="584" y="455.5" font-size="24" text-anchor="middle">t</text>
</svg></body></html>
